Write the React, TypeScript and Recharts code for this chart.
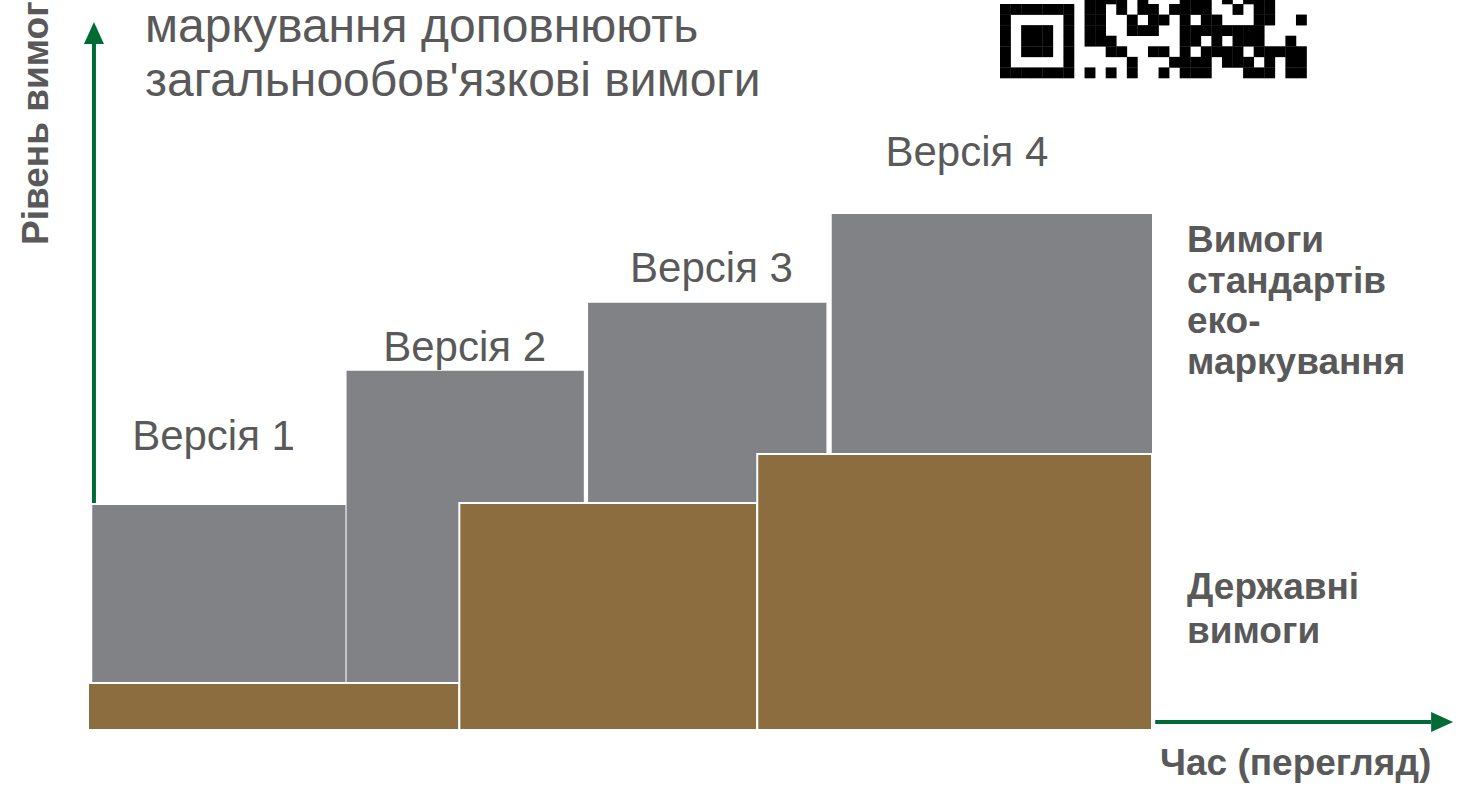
import React from 'react';
import { ComposedChart, XAxis, YAxis, ReferenceArea, ReferenceLine, Scatter } from 'recharts';

// Versions of the eco-label standard
const versions = ['Версія 1', 'Версія 2', 'Версія 3', 'Версія 4'];

// Eco-label standard requirements (grey blocks): time span and level span
const ecoStart = [0.4, 24.3, 47.0, 69.9];
const ecoEnd = [24.2, 46.6, 69.4, 100];
const ecoBase = [9.3, 9.3, 44.2, 53.7];
const ecoLevel = [43.6, 69.6, 82.8, 100];

// State (mandatory) requirements (brown blocks)
const stateStart = [0, 34.9, 62.9];
const stateEnd = [34.9, 62.9, 100];
const stateLevel = [9.1, 44.0, 53.5];

// Where each version caption sits (time, level)
const versionLabelX = [11.8, 35.4, 58.6, 82.6];
const versionLabelY = [57.2, 74.4, 89.8, 112.2];

// Axis arrows (time, level)
const levelArrow = [{ x: 0.56, y: 44 }, { x: 0.56, y: 137.2 }];
const timeArrow = [{ x: 100.3, y: 1.55 }, { x: 128.3, y: 1.55 }];

// visible bottom part of the QR code (row -1 is partly cut off)
const QR_ROWS = [
  '00000000111101000111010111000',
  '11111110110101101111001011000',
  '10000010110010110101100011001',
  '10111010110011100111111110000',
  '10111010111000000110101110010',
  '10111010001100110101111011111',
  '10000010000010001111011101011',
  '11111110101010010111000111011',
];

const GREY = '#818286';
const BROWN = '#8c6d3f';
const GREEN = '#006b35';
const TEXT = '#595959';
const FONT = '"Liberation Sans", Arial, sans-serif';

const captions = versions.map((v, i) => ({ name: v, x: versionLabelX[i], y: versionLabelY[i] }));

const Arrow = (props: any) => {
  const { x1, y1, x2, y2 } = props;
  const a = Math.atan2(y2 - y1, x2 - x1);
  const len = 22;
  const half = 10;
  const bx = x2 - len * Math.cos(a);
  const by = y2 - len * Math.sin(a);
  const px = -Math.sin(a) * half;
  const py = Math.cos(a) * half;
  return (
    <g>
      <line x1={x1} y1={y1} x2={bx} y2={by} stroke={GREEN} strokeWidth={4} />
      <polygon points={`${x2},${y2} ${bx + px},${by + py} ${bx - px},${by - py}`} fill={GREEN} />
    </g>
  );
};

const Caption = (props: any) => {
  const { cx, cy, payload } = props;
  return (
    <text x={cx} y={cy} dy="0.355em" textAnchor="middle" fill={TEXT} fontSize={42} fontFamily={FONT}>
      {payload.name}
    </text>
  );
};

function QrCode() {
  const m = 10.57;
  return (
    <g>
      {QR_ROWS.map((row, r) =>
        row.split('').map((c, col) =>
          c === '1' ? (
            <rect key={`${r}-${col}`} x={1000 + col * m} y={4 + (r - 1) * m} width={m + 0.3} height={m + 0.3} fill="#000" />
          ) : null
        )
      )}
    </g>
  );
}

export default function App() {
  return (
    <div style={{ position: 'absolute', left: 0, top: 0, width: 1462, height: 787, background: '#fff', fontFamily: FONT }}>
      <ComposedChart width={1462} height={787} margin={{ top: 7.6, right: 310, bottom: 57, left: 88 }}>
        <XAxis type="number" dataKey="x" domain={[0, 100]} hide />
        <YAxis type="number" dataKey="y" domain={[0, 140]} hide />
        {ecoStart.map((s, i) => (
          <ReferenceArea
            key={`eco-${i}`}
            x1={s}
            x2={ecoEnd[i]}
            y1={ecoBase[i]}
            y2={ecoLevel[i]}
            fill={GREY}
            fillOpacity={1}
            stroke="none"
            ifOverflow="visible"
          />
        ))}
        {stateStart.map((s, i) => (
          <ReferenceArea
            key={`state-${i}`}
            x1={s}
            x2={stateEnd[i]}
            y1={0}
            y2={stateLevel[i]}
            fill={BROWN}
            fillOpacity={1}
            stroke="#fff"
            strokeWidth={2}
            ifOverflow="visible"
          />
        ))}
        <ReferenceLine segment={levelArrow} ifOverflow="visible" shape={Arrow} />
        <ReferenceLine segment={timeArrow} ifOverflow="visible" shape={Arrow} />
        <Scatter data={captions} dataKey="y" shape={Caption} isAnimationActive={false} />
      </ComposedChart>
      <svg width={1462} height={787} style={{ position: 'absolute', left: 0, top: 0, pointerEvents: 'none' }}>
        <g fontFamily={FONT} fill={TEXT}>
          <text x={145} y={42} fontSize={48}>маркування доповнюють</text>
          <text x={145} y={96} fontSize={48}>загальнообов'язкові вимоги</text>
          <text x={48} y={245} fontSize={37} fontWeight="bold" transform="rotate(-90 48 245)">Рівень вимог</text>
          <text x={1187} fontSize={37} fontWeight="bold">
            <tspan x={1187} y={252}>Вимоги</tspan>
            <tspan x={1187} y={293}>стандартів</tspan>
            <tspan x={1187} y={333}>еко-</tspan>
            <tspan x={1187} y={374}>маркування</tspan>
          </text>
          <text x={1187} fontSize={37} fontWeight="bold">
            <tspan x={1187} y={599}>Державні</tspan>
            <tspan x={1187} y={643}>вимоги</tspan>
          </text>
          <text x={1160} y={775} fontSize={37} fontWeight="bold">Час (перегляд)</text>
        </g>
        <QrCode />
      </svg>
    </div>
  );
}
